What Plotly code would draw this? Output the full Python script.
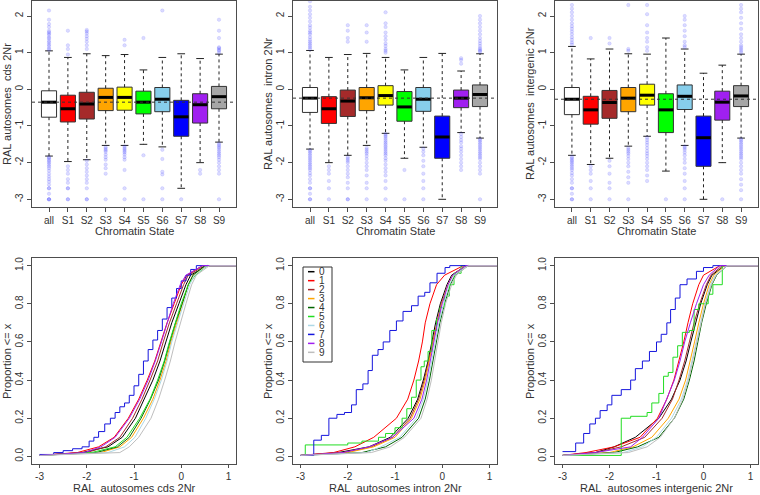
import plotly.graph_objects as go

states = ["all", "S1", "S2", "S3", "S4", "S5", "S6", "S7", "S8", "S9"]
box_colors = ["#FFFFFF", "#FF0000", "#A52A2A", "#FFA500", "#FFFF00",
              "#00FF00", "#87CEEB", "#0000FF", "#A020F0", "#A6A6A6"]

# ---- boxplot stats (top row) ----
cds_q1 = [-0.76, -0.89, -0.81, -0.58, -0.57, -0.67, -0.61, -1.28, -0.92, -0.53]
cds_med = [-0.35, -0.53, -0.40, -0.22, -0.22, -0.35, -0.27, -0.75, -0.42, -0.20]
cds_q3 = [-0.04, -0.16, -0.08, 0.03, 0.06, -0.05, 0.05, -0.30, -0.12, 0.08]
cds_lo = [-1.82, -1.97, -1.92, -1.53, -1.53, -1.50, -1.57, -2.70, -2.00, -1.44]
cds_hi = [1.05, 0.87, 0.97, 0.92, 0.95, 0.53, 0.87, 0.97, 0.84, 0.96]
cds_out = [
    [1.08, 1.12, 1.18, 1.22, 1.28, 1.32, 1.38, 1.42, 1.48, 1.52, 1.56, 1.6, 1.7, 1.78, 1.9, 2.15,
     -1.85, -1.88, -1.92, -1.96, -2.0, -2.05, -2.1, -2.15, -2.22, -2.3, -2.38, -2.45, -2.52, -2.6,
     -2.7, -2.7, -2.85, -3.0, -3.0, -3.0],
    [0.95, 1.1, 1.2, 1.6, -2.1, -2.2, -2.3, -2.45, -2.55, -2.7, -2.7, -3.0, -3.0],
    [1.1, 1.2, 1.3, 1.38, 1.45, 1.52, 1.58, 1.62, -1.95, -2.05, -2.15, -2.25, -2.35, -2.45, -2.55,
     -2.7, -3.0, -3.0],
    [-1.58, -1.62, -1.66, -1.7, -1.78, -1.85, -1.92, -2.05, -2.15, -2.3, -3.0],
    [1.2, 1.35, -1.56, -1.6, -1.64, -1.68, -1.72, -1.78, -1.85, -1.92, -2.2, -2.7, -3.0],
    [1.4, -1.8, -3.0],
    [2.15, -1.65, -1.9, -2.25, -2.32, -2.7, -3.0],
    [-3.0],
    [-2.2, -2.3],
    [1.0, 1.05, 1.08, 1.12, 1.15, 1.4, 1.6, 1.9, -1.48, -1.52, -1.56, -1.6, -1.65, -1.7, -1.75, -1.8,
     -1.85, -1.92, -2.0, -2.1, -2.2, -2.3, -3.0],
]

intron_q1 = [-0.63, -0.93, -0.74, -0.58, -0.43, -0.87, -0.60, -1.88, -0.50, -0.47]
intron_med = [-0.24, -0.53, -0.32, -0.23, -0.17, -0.48, -0.27, -1.30, -0.24, -0.14]
intron_q3 = [0.05, -0.20, -0.02, 0.05, 0.10, -0.06, 0.05, -0.73, -0.02, 0.12]
intron_lo = [-1.63, -2.00, -1.80, -1.53, -1.20, -1.88, -1.58, -3.00, -1.18, -1.33]
intron_hi = [1.06, 0.87, 0.95, 0.98, 0.87, 0.53, 0.87, 0.98, 0.50, 0.97]
intron_out = [
    [1.1, 1.15, 1.2, 1.25, 1.3, 1.35, 1.42, 1.5, 1.55, 1.6, 1.68, 1.75, 1.85, 1.95, 2.05, 2.15,
     2.25, 2.4, -1.66, -1.7, -1.75, -1.8, -1.85, -1.9, -1.95, -2.0, -2.05, -2.1, -2.15, -2.2,
     -2.28, -2.35, -2.45, -2.55, -2.7, -2.7, -2.85, -3.0, -3.0],
    [-2.1, -2.2, -2.3, -2.5, -2.7, -3.0],
    [1.3, 1.4, 1.6, 1.75, -1.85, -1.9, -1.95, -2.0, -2.1, -2.2, -2.3, -2.4, -2.55, -2.7, -3.0, -3.0],
    [1.3, 1.55, 1.75, -1.6, -1.65, -1.7, -1.75, -1.82, -1.9, -2.0, -2.1, -2.2, -2.35, -2.55,
     -2.7, -3.0],
    [1.0, 1.05, 1.1, 1.18, 1.25, 1.35, 1.45, 1.55, 1.7, 1.8, 2.1, -1.22, -1.26, -1.3, -1.35,
     -1.4, -1.45, -1.5, -1.55, -1.6, -1.65, -1.7, -1.75, -1.8, -1.88, -1.95, -2.05, -2.15,
     -2.25, -2.35, -2.5, -2.7, -3.0],
    [-2.2, -3.0],
    [-1.62, -1.7, -1.8, -1.95, -2.1, -2.3, -2.5, -2.7, -3.0],
    [],
    [0.7, 0.8, 0.85, -1.22, -1.3, -1.38, -1.45, -1.55, -1.62, -1.7, -1.8, -1.9, -2.0, -2.1, -2.2],
    [1.02, 1.05, 1.08, 1.12, 1.18, 1.25, 1.32, 1.4, 1.5, 1.6, 1.7, 1.8, 1.9, 2.0, -1.36, -1.4,
     -1.45, -1.5, -1.55, -1.6, -1.65, -1.7, -1.75, -1.8, -1.85, -1.9, -2.0, -2.1, -2.2, -2.3, -3.0],
]

inter_q1 = [-0.69, -0.95, -0.79, -0.61, -0.43, -1.18, -0.55, -2.10, -0.84, -0.47]
inter_med = [-0.27, -0.56, -0.36, -0.24, -0.16, -0.56, -0.19, -1.32, -0.35, -0.18]
inter_q3 = [0.05, -0.19, -0.03, 0.05, 0.14, -0.12, 0.12, -0.73, -0.05, 0.10]
inter_lo = [-1.80, -2.05, -1.88, -1.55, -1.28, -2.23, -1.53, -3.00, -2.00, -1.33]
inter_hi = [1.17, 0.83, 1.10, 0.97, 0.96, 1.40, 1.10, 0.44, 0.66, 0.96]
inter_out = [
    [1.22, 1.28, 1.35, 1.42, 1.5, 1.58, 1.65, 1.72, 1.8, 1.9, 2.0, 2.1, 2.2, 2.3, -1.84, -1.88,
     -1.92, -1.96, -2.0, -2.05, -2.1, -2.15, -2.2, -2.28, -2.35, -2.45, -2.55, -2.7, -2.7,
     -2.85, -3.0, -3.0],
    [1.4, -2.1, -2.2, -2.3, -2.5, -2.7, -3.0],
    [1.25, 1.4, -1.95, -2.1, -2.3, -2.55, -2.7, -3.0],
    [1.05, 1.1, 2.3, -1.6, -1.65, -1.7, -1.75, -1.82, -1.9, -2.0, -2.1, -2.25, -2.4, -2.55, -3.0],
    [1.05, 1.15, 1.3, 1.4, 1.55, 1.75, 2.05, 2.3, -1.32, -1.38, -1.45, -1.52, -1.6, -1.68,
     -1.75, -1.82, -1.9, -2.0, -2.1, -2.2, -2.35, -2.5],
    [-3.0],
    [1.15, 1.2, 1.3, 1.45, 1.6, 1.75, 1.9, 2.0, -1.56, -1.6, -1.65, -1.72, -1.8, -1.9, -2.0,
     -2.15, -2.3, -2.5, -2.7, -3.0],
    [],
    [-3.0],
    [1.0, 1.05, 1.1, 1.15, 1.2, 1.3, 1.4, 1.5, 1.65, 1.8, 1.95, 2.1, 2.2, 2.3, -1.36, -1.4,
     -1.45, -1.5, -1.55, -1.6, -1.65, -1.7, -1.75, -1.8, -1.85, -1.9, -2.0, -2.1, -2.2, -2.3,
     -2.45, -2.6, -2.75, -3.0],
]

# ---- ECDF curves (bottom row) ----
ecdf_labels = ["0", "1", "2", "3", "4", "5", "6", "7", "8", "9"]
ecdf_colors = ["#000000", "#FF0000", "#A52A2A", "#FFA500", "#006400",
               "#22DD22", "#ADD8E6", "#1515DD", "#A020F0", "#BEBEBE"]
ecdf_p = [0.005, 0.02, 0.05, 0.1, 0.2, 0.3, 0.4, 0.5, 0.6, 0.7, 0.8, 0.9, 0.95, 1.0, 1.0]

cds_s7_x = [-3.0, -2.7, -2.5, -2.3, -2.1, -1.95, -1.85, -1.75, -1.62, -1.5, -1.4, -1.3, -1.2,
            -1.1, -1.0, -0.9, -0.8, -0.7, -0.6, -0.5, -0.4, -0.3, -0.2, -0.1, 0.0, 0.1, 0.2,
            0.32, 1.2]
cds_s7_p = [0.01, 0.02, 0.03, 0.04, 0.05, 0.08, 0.1, 0.13, 0.17, 0.2, 0.23, 0.26, 0.28, 0.32,
            0.37, 0.43, 0.5, 0.56, 0.61, 0.66, 0.72, 0.78, 0.83, 0.88, 0.92, 0.95, 0.98, 1.0, 1.0]
cds_x = [
    [-3.0, -2.1, -1.55, -1.25, -0.97, -0.78, -0.6, -0.45, -0.33, -0.2, -0.05, 0.1, 0.2, 0.55, 1.2],
    [-3.0, -2.2, -1.75, -1.42, -1.12, -0.9, -0.72, -0.56, -0.43, -0.3, -0.15, 0.0, 0.12, 0.45, 1.2],
    [-3.0, -2.0, -1.6, -1.3, -1.03, -0.83, -0.66, -0.5, -0.38, -0.25, -0.1, 0.05, 0.15, 0.5, 1.2],
    [-3.0, -1.7, -1.3, -1.05, -0.8, -0.6, -0.45, -0.32, -0.22, -0.1, 0.03, 0.15, 0.25, 0.55, 1.2],
    [-3.0, -1.8, -1.35, -1.1, -0.85, -0.65, -0.48, -0.35, -0.24, -0.12, 0.02, 0.15, 0.25, 0.5, 1.2],
    [-3.0, -1.9, -1.4, -1.15, -0.88, -0.66, -0.5, -0.36, -0.25, -0.13, 0.0, 0.15, 0.3, 0.55, 1.2],
    [-3.0, -1.55, -1.2, -0.98, -0.75, -0.57, -0.42, -0.3, -0.2, -0.08, 0.05, 0.18, 0.28, 0.55, 1.2],
    cds_s7_x,
    [-3.0, -2.05, -1.7, -1.4, -1.1, -0.88, -0.7, -0.55, -0.42, -0.3, -0.17, -0.02, 0.1, 0.45, 1.2],
    [-3.0, -1.3, -1.1, -0.9, -0.64, -0.48, -0.35, -0.23, -0.13, -0.02, 0.1, 0.22, 0.32, 0.6, 1.2],
]
cds_p = [ecdf_p] * 7 + [cds_s7_p] + [ecdf_p] * 2
cds_steps = [7]

intron_s5_x = [-3.0, -2.9, -2.0, -1.7, -1.35, -1.2, -1.0, -0.85, -0.75, -0.65, -0.55, -0.45,
               -0.38, -0.3, -0.22, -0.12, -0.05, 0.05, 0.15, 0.25, 0.4, 1.2]
intron_s5_p = [0.005, 0.06, 0.07, 0.08, 0.1, 0.12, 0.15, 0.2, 0.25, 0.31, 0.4, 0.47, 0.5, 0.55,
               0.66, 0.72, 0.78, 0.84, 0.9, 0.96, 1.0, 1.0]
intron_s7_x = [-3.0, -2.72, -2.56, -2.4, -2.23, -2.07, -1.92, -1.82, -1.68, -1.57, -1.48, -1.36,
               -1.25, -1.11, -0.97, -0.83, -0.65, -0.51, -0.37, -0.26, -0.11, 0.06, 0.16, 1.2]
intron_s7_p = [0.005, 0.085, 0.11, 0.2, 0.22, 0.23, 0.27, 0.35, 0.38, 0.45, 0.53, 0.56, 0.6,
               0.66, 0.71, 0.76, 0.79, 0.84, 0.86, 0.91, 0.96, 0.99, 1.0, 1.0]
intron_x = [
    [-3.0, -2.2, -1.55, -1.1, -0.72, -0.52, -0.4, -0.3, -0.22, -0.14, -0.04, 0.1, 0.2, 0.5, 1.2],
    [-3.0, -2.3, -1.85, -1.45, -0.97, -0.73, -0.6, -0.5, -0.42, -0.36, -0.26, -0.12, 0.05, 0.45, 1.2],
    [-3.0, -2.1, -1.5, -1.05, -0.68, -0.5, -0.38, -0.29, -0.2, -0.12, -0.02, 0.12, 0.22, 0.5, 1.2],
    [-3.0, -2.0, -1.45, -1.0, -0.65, -0.47, -0.36, -0.27, -0.19, -0.11, -0.01, 0.12, 0.22, 0.5, 1.2],
    [-3.0, -1.7, -1.2, -0.85, -0.5, -0.36, -0.27, -0.2, -0.13, -0.05, 0.05, 0.17, 0.27, 0.55, 1.2],
    intron_s5_x,
    [-3.0, -1.6, -1.3, -0.9, -0.55, -0.4, -0.3, -0.22, -0.15, -0.07, 0.03, 0.15, 0.25, 0.55, 1.2],
    intron_s7_x,
    [-3.0, -2.1, -1.55, -1.05, -0.6, -0.43, -0.33, -0.25, -0.18, -0.1, 0.0, 0.12, 0.22, 0.5, 1.2],
    [-3.0, -1.5, -1.1, -0.8, -0.45, -0.32, -0.23, -0.16, -0.09, -0.02, 0.07, 0.2, 0.3, 0.55, 1.2],
]
intron_p = [ecdf_p] * 5 + [intron_s5_p, ecdf_p, intron_s7_p] + [ecdf_p] * 2
intron_steps = [5, 7]

inter_s5_x = [-3.0, -1.75, -1.55, -1.2, -1.1, -0.95, -0.85, -0.75, -0.65, -0.55, -0.45, -0.3,
              -0.2, -0.1, 0.1, 0.2, 0.4, 1.2]
inter_s5_p = [0.005, 0.2, 0.21, 0.23, 0.28, 0.33, 0.42, 0.44, 0.52, 0.58, 0.65, 0.66, 0.77,
              0.8, 0.85, 0.9, 1.0, 1.0]
inter_s7_x = [-3.0, -2.72, -2.55, -2.42, -2.3, -2.2, -2.05, -1.95, -1.75, -1.55, -1.45, -1.3,
              -1.15, -1.0, -0.9, -0.78, -0.7, -0.6, -0.5, -0.35, -0.15, 0.0, 0.2, 1.2]
inter_s7_p = [0.025, 0.07, 0.12, 0.17, 0.2, 0.24, 0.27, 0.32, 0.35, 0.4, 0.46, 0.5, 0.55, 0.6,
              0.64, 0.7, 0.77, 0.83, 0.9, 0.93, 0.97, 0.99, 1.0, 1.0]
inter_x = [
    [-3.0, -2.3, -1.9, -1.45, -0.95, -0.68, -0.5, -0.37, -0.27, -0.17, -0.06, 0.08, 0.18, 0.45, 1.2],
    [-3.0, -2.5, -1.9, -1.35, -0.98, -0.78, -0.63, -0.52, -0.42, -0.33, -0.23, -0.1, 0.0, 0.35, 1.2],
    [-3.0, -2.3, -1.75, -1.25, -0.88, -0.66, -0.52, -0.4, -0.3, -0.2, -0.08, 0.06, 0.16, 0.4, 1.2],
    [-3.0, -2.0, -1.5, -1.1, -0.75, -0.52, -0.38, -0.28, -0.19, -0.1, 0.0, 0.12, 0.22, 0.45, 1.2],
    [-3.0, -1.9, -1.4, -0.95, -0.62, -0.42, -0.3, -0.2, -0.12, -0.04, 0.06, 0.18, 0.28, 0.5, 1.2],
    inter_s5_x,
    [-3.0, -1.7, -1.3, -1.0, -0.68, -0.47, -0.34, -0.25, -0.16, -0.07, 0.03, 0.15, 0.25, 0.5, 1.2],
    inter_s7_x,
    [-3.0, -2.3, -1.55, -1.3, -0.95, -0.78, -0.62, -0.5, -0.4, -0.28, -0.15, 0.0, 0.12, 0.35, 1.2],
    [-3.0, -1.6, -1.2, -0.92, -0.62, -0.44, -0.32, -0.23, -0.15, -0.06, 0.04, 0.17, 0.27, 0.5, 1.2],
]
inter_p = [ecdf_p] * 5 + [inter_s5_p, ecdf_p, inter_s7_p] + [ecdf_p] * 2
inter_steps = [5, 7]

titles = ["cds", "intron", "intergenic"]

W, H = 760, 495
FONT = "Liberation Sans, Arial, sans-serif"
cols = [(32, 236), (293, 497), (555, 758)]
rows = [(1, 207), (258, 464)]


def px(x):
    return x / W


def py(y):
    return 1 - y / H


def ax_id(n):
    s = "" if n == 1 else str(n)
    return "x" + s, "y" + s


fig = go.Figure()


def box_panel(n, q1, med, q3, lo, hi, out):
    xa, ya = ax_id(n)
    # dashed whiskers
    wx, wy = [], []
    for s, a, b, c, d in zip(states, q1, lo, q3, hi):
        wx += [s, s, None, s, s, None]
        wy += [a, b, None, c, d, None]
    fig.add_trace(go.Scatter(x=wx, y=wy, mode="lines", xaxis=xa, yaxis=ya,
                             line=dict(color="#222", width=1, dash="3px,3px")))
    # whisker caps (line-ew width is 1.4 * size)
    fig.add_trace(go.Scatter(x=states + states, y=lo + hi, mode="markers", xaxis=xa, yaxis=ya,
                             marker=dict(symbol="line-ew", size=5.5,
                                         line=dict(color="#222", width=1))))
    fig.add_trace(go.Bar(x=states, y=[b - a for a, b in zip(q1, q3)], base=q1, width=0.8,
                         xaxis=xa, yaxis=ya,
                         marker=dict(color=box_colors, line=dict(color="#333", width=1))))
    fig.add_trace(go.Scatter(x=states, y=med, mode="markers", xaxis=xa, yaxis=ya,
                             marker=dict(symbol="line-ew", size=10.5,
                                         line=dict(color="#000", width=3))))
    ox, oy = [], []
    for s, vals in zip(states, out):
        ox += [s] * len(vals)
        oy += vals
    fig.add_trace(go.Scatter(x=ox, y=oy, mode="markers", xaxis=xa, yaxis=ya,
                             marker=dict(size=3.5, color="rgba(40,40,255,0.17)",
                                         line=dict(color="rgba(0,0,255,0.17)", width=0.5))))
    fig.add_shape(type="line", xref=f"{xa} domain", yref=ya, x0=0, x1=1,
                  y0=med[0], y1=med[0], line=dict(color="#333", width=1, dash="3px,3px"))


def ecdf_panel(n, xs, ps, steps):
    xa, ya = ax_id(n)
    for i in range(10):
        fig.add_trace(go.Scatter(x=xs[i], y=ps[i], mode="lines", xaxis=xa, yaxis=ya,
                                 line=dict(color=ecdf_colors[i], width=1,
                                           shape="hv" if i in steps else "linear")))


box_panel(1, cds_q1, cds_med, cds_q3, cds_lo, cds_hi, cds_out)
box_panel(2, intron_q1, intron_med, intron_q3, intron_lo, intron_hi, intron_out)
box_panel(3, inter_q1, inter_med, inter_q3, inter_lo, inter_hi, inter_out)
ecdf_panel(4, cds_x, cds_p, cds_steps)
ecdf_panel(5, intron_x, intron_p, intron_steps)
ecdf_panel(6, inter_x, inter_p, inter_steps)

axis_style = dict(showline=True, mirror=True, linecolor="#4d4d4d", linewidth=1,
                  ticks="outside", ticklen=4, tickwidth=1, tickcolor="#4d4d4d",
                  showgrid=False, zeroline=False,
                  tickfont=dict(size=10, color="#333", family=FONT))

layout = {}
for n in range(1, 7):
    c = (n - 1) % 3
    r = (n - 1) // 3
    xa, ya = ax_id(n)
    xd = [px(cols[c][0]), px(cols[c][1])]
    yd = [py(rows[r][1]), py(rows[r][0])]
    if r == 0:
        xax = dict(axis_style, domain=xd, anchor=ya, type="category",
                   range=[-0.9, 9.9])
        yax = dict(axis_style, domain=yd, anchor=xa, range=[-3.21, 2.41],
                   tickvals=[-3, -2, -1, 0, 1, 2],
                   ticktext=["-3", "-2", "-1", "0", "1", "2"], tickangle=-90)
    else:
        xax = dict(axis_style, domain=xd, anchor=ya, range=[-3.16, 1.16], ticklen=3,
                   tickvals=[-3, -2, -1, 0, 1], ticktext=["-3", "-2", "-1", "0", "1"])
        yax = dict(axis_style, domain=yd, anchor=xa, range=[-0.04, 1.04],
                   tickvals=[0, 0.2, 0.4, 0.6, 0.8, 1.0], tickformat=".1f", tickangle=-90)
    layout["xaxis" + xa[1:]] = xax
    layout["yaxis" + ya[1:]] = yax

fig.update_layout(
    width=W, height=H, margin=dict(l=0, r=0, t=0, b=0),
    paper_bgcolor="white", plot_bgcolor="white",
    showlegend=False, font=dict(family=FONT, color="#333"),
    **layout,
)


def label(text, x, y, size=11, angle=0, xanchor="center", **kw):
    fig.add_annotation(text=text, x=px(x), y=py(y), xref="paper", yref="paper",
                       showarrow=False, textangle=angle, xanchor=xanchor, yanchor="middle",
                       font=dict(size=size, color="#333", family=FONT), **kw)


ytitle_x = [7, 268, 530]
for c in range(3):
    mid = (cols[c][0] + cols[c][1]) / 2
    label(f"RAL autosomes\u00a0 {titles[c]} 2Nr", ytitle_x[c], 104, angle=-90)
    label("Chromatin State", mid, 231)
    label("Proportion &lt;= x", ytitle_x[c], 361, angle=-90)
    label(f"RAL\u00a0 autosomes {titles[c]} 2Nr", mid, 487.5)

# legend box in the middle ECDF panel
fig.add_shape(type="rect", xref="paper", yref="paper", x0=px(303), x1=px(332),
              y0=py(362), y1=py(267), line=dict(color="#333", width=1),
              fillcolor="white", layer="above")
for i, lab in enumerate(ecdf_labels):
    yy = 271.7 + 8.96 * i
    fig.add_shape(type="line", xref="paper", yref="paper", x0=px(308), x1=px(314.5),
                  y0=py(yy), y1=py(yy), line=dict(color=ecdf_colors[i], width=1.5),
                  layer="above")
    label(lab, 317.5, yy, size=10, xanchor="left", height=8.5, borderpad=0)

fig.write_html("out.html", config={"displayModeBar": False},
               post_script="document.body.style.margin='0';"
                           "document.body.style.overflow='hidden';")
